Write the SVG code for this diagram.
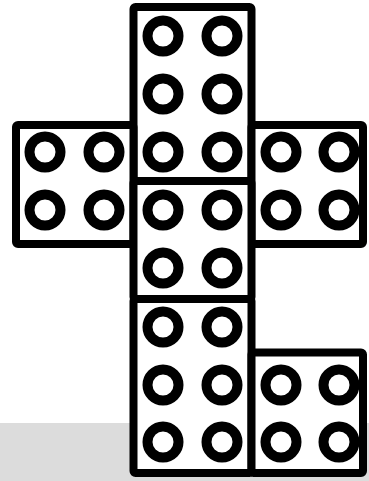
<svg xmlns="http://www.w3.org/2000/svg" width="369" height="481" viewBox="0 0 369 481">
<style>
.brick{fill:#fff;stroke:#000;stroke-width:8;stroke-linejoin:round}
.stud{fill:none;stroke:#000;stroke-width:10}
</style>
<rect x="0" y="0" width="369" height="481" fill="#fff"/>
<rect x="0" y="423" width="369" height="58" fill="#dcdcdc"/>
<g id="brick-top">
<rect class="brick" x="133.5" y="7" width="118" height="174" rx="2"/>
<circle class="stud" cx="163" cy="36" r="15.5"/><circle class="stud" cx="222" cy="36" r="15.5"/>
<circle class="stud" cx="163" cy="94" r="15.5"/><circle class="stud" cx="222" cy="94" r="15.5"/>
<circle class="stud" cx="163" cy="152" r="15.5"/><circle class="stud" cx="222" cy="152" r="15.5"/>
</g>
<g id="brick-left">
<rect class="brick" x="16" y="125" width="117.5" height="119" rx="2"/>
<circle class="stud" cx="45" cy="152" r="15.5"/><circle class="stud" cx="104" cy="152" r="15.5"/>
<circle class="stud" cx="45" cy="210" r="15.5"/><circle class="stud" cx="104" cy="210" r="15.5"/>
</g>
<g id="brick-right">
<rect class="brick" x="251.5" y="125" width="111.5" height="119" rx="2"/>
<circle class="stud" cx="281" cy="152" r="15.5"/><circle class="stud" cx="339" cy="152" r="15.5"/>
<circle class="stud" cx="281" cy="210" r="15.5"/><circle class="stud" cx="339" cy="210" r="15.5"/>
</g>
<g id="brick-middle">
<rect class="brick" x="133.5" y="181" width="118" height="118" rx="2"/>
<circle class="stud" cx="163" cy="210" r="15.5"/><circle class="stud" cx="222" cy="210" r="15.5"/>
<circle class="stud" cx="163" cy="268" r="15.5"/><circle class="stud" cx="222" cy="268" r="15.5"/>
</g>
<g id="brick-bottom">
<rect class="brick" x="133.5" y="299" width="118" height="174" rx="2"/>
<circle class="stud" cx="163" cy="327" r="15.5"/><circle class="stud" cx="222" cy="327" r="15.5"/>
<circle class="stud" cx="163" cy="385" r="15.5"/><circle class="stud" cx="222" cy="385" r="15.5"/>
<circle class="stud" cx="163" cy="442" r="15.5"/><circle class="stud" cx="222" cy="442" r="15.5"/>
</g>
<g id="brick-bottom-right">
<rect class="brick" x="251.5" y="352.5" width="111.5" height="120.5" rx="2"/>
<circle class="stud" cx="281" cy="385" r="15.5"/><circle class="stud" cx="339" cy="385" r="15.5"/>
<circle class="stud" cx="281" cy="442" r="15.5"/><circle class="stud" cx="339" cy="442" r="15.5"/>
</g>
<g id="connectors"></g>
</svg>
